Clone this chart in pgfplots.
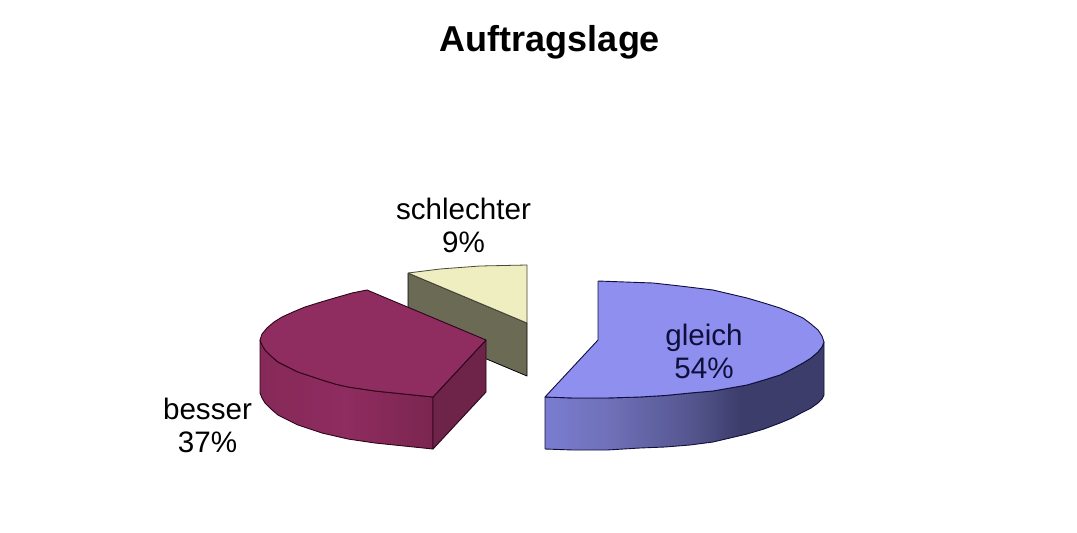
\documentclass[border=0pt]{standalone}
\usepackage{fontspec}
\setmainfont{Liberation Sans}
\usepackage{pgfplots}
\pgfplotsset{compat=1.18}
\definecolor{gleichTop}{RGB}{142,143,238}
\definecolor{gleichLine}{RGB}{15,15,60}
\definecolor{besserTop}{RGB}{143,44,96}
\definecolor{besserFace}{RGB}{110,35,73}
\definecolor{besserLine}{RGB}{45,5,25}
\definecolor{schlechtTop}{RGB}{239,238,192}
\definecolor{schlechtSide}{RGB}{106,106,85}
\definecolor{gleichA}{RGB}{122,124,208}
\definecolor{gleichB}{RGB}{112,113,185}
\definecolor{gleichC}{RGB}{85,86,143}
\definecolor{gleichD}{RGB}{60,61,107}
\definecolor{besserA}{RGB}{134,41,88}
\definecolor{besserB}{RGB}{122,38,80}
% the path's width takes 25bp to 75bp of these
\pgfdeclarehorizontalshading{gleichside}{100bp}{
  color(0bp)=(gleichA); color(25bp)=(gleichA); color(36bp)=(gleichB);
  color(51bp)=(gleichC); color(60bp)=(gleichD); color(100bp)=(gleichD)}
\pgfdeclarehorizontalshading{besserside}{100bp}{
  color(0bp)=(besserA); color(25bp)=(besserA); color(50bp)=(besserTop);
  color(75bp)=(besserB); color(100bp)=(besserB)}
\newcommand{\lab}{\fontsize{29.6}{33}\selectfont}
\begin{document}
\begin{tikzpicture}
\begin{axis}[
  scale only axis, width=1077pt, height=533pt,
  xmin=0, xmax=1077, ymin=0, ymax=533, y dir=reverse,
  hide axis, clip=false,
]
% white page, keeps the full size
\addplot[draw=none, fill=white] coordinates {(0,0) (1077,0) (1077,533) (0,533) (0,0)};

% schlechter, side then top
\addplot[draw=black, line width=0.8pt, line join=round, fill=schlechtSide] coordinates {
  (408,273) (527,323) (527,376) (408,326) (408,273)};
\addplot[draw=black!70!schlechtTop, line width=0.8pt, line join=round, fill=schlechtTop] coordinates {
  (408,273) (440,269) (480,266) (527,265) (527,323) (408,273)};

% besser, outer wall, cut face, top
\addplot[draw=besserLine, line width=0.9pt, line join=round, shading=besserside] coordinates {
  (260,340) (262,345) (265,350) (271,356) (278,362) (288,367) (298,372) (310,376) (322,380) (335,384) (348,387) (375,391) (404,394) (433,397)
  (433,449) (404,446) (375,443) (348,439) (335,436) (322,433) (310,429) (298,425) (288,420) (278,415) (271,409) (265,403) (262,398) (260,393) (260,340)};
\addplot[draw=besserLine, line width=0.9pt, line join=round, fill=besserFace] coordinates {
  (433,397) (486,340) (486,392) (433,449) (433,397)};
\addplot[draw=besserLine, line width=0.9pt, line join=round, fill=besserTop] coordinates {
  (367,290) (486,340) (433,397) (404,394) (375,391) (348,387) (335,384) (322,380) (310,376) (298,372) (288,367) (278,362) (271,356) (265,350) (262,345)
  (260,340) (262,334) (267,328) (274,322) (282,317) (293,312) (305,307) (321,302) (338,297) (352,293) (367,290)};

% gleich, outer wall then top
\addplot[draw=gleichLine, line width=0.9pt, line join=round, shading=gleichside] coordinates {
  (545,397) (573,398) (607,398) (640,397) (665,395.5) (690,393) (713,391) (730,388) (747,385) (764,380) (780,375) (792,369) (803,363) (811,358) (818,352) (822,347) (824,342)
  (824,395) (822,399) (818,403) (811,408) (803,412) (792,418) (780,423) (764,429) (747,434) (730,438) (713,442) (690,445) (665,447) (640,448) (607,450) (573,450) (545,449) (545,397)};
\addplot[draw=gleichLine, line width=0.9pt, line join=round, fill=gleichTop] coordinates {
  (598,281) (625,282) (653,283) (680,286) (713,290) (730,294) (747,298) (764,303) (780,308) (792,313) (803,318) (811,324) (818,330) (822,336) (824,342)
  (822,347) (818,352) (811,358) (803,363) (792,369) (780,375) (764,380) (747,385) (730,388) (713,391) (690,393) (665,395.5) (640,397) (607,398) (573,398) (545,397)
  (598,340) (598,281)};

\node[font=\bfseries\fontsize{36}{40}\selectfont, anchor=center] at (axis cs:550,42) {Auftragslage};
\node[font=\lab, align=center, anchor=center] at (axis cs:463.5,225.5) {schlechter\\9\%};
\node[font=\lab, align=center, anchor=center, text=gleichLine] at (axis cs:704,351) {gleich\\54\%};
\node[font=\lab, align=center, anchor=center] at (axis cs:207.5,425) {besser\\37\%};
\end{axis}
\end{tikzpicture}
\end{document}
